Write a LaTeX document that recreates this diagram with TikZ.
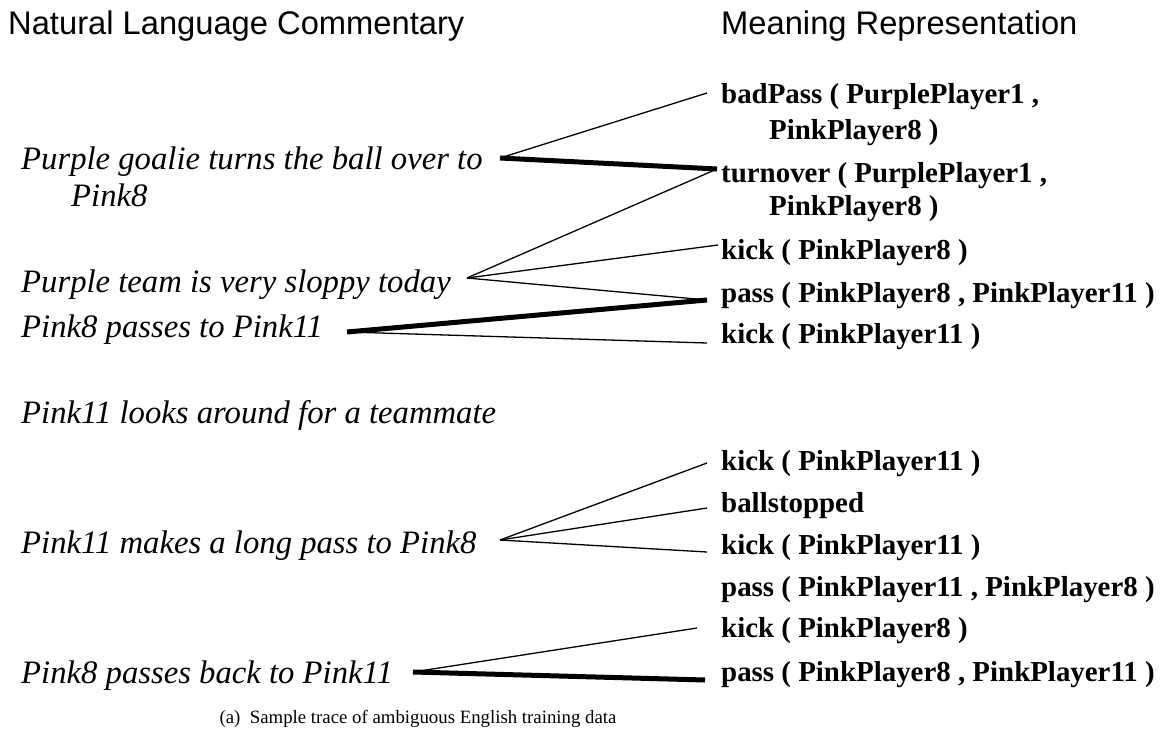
\documentclass[tikz,border=0pt]{standalone}
\usepackage{fontspec}
\setmainfont{Liberation Serif}
\newfontfamily\hdrfont{Liberation Sans}
\begin{document}
\begin{tikzpicture}[x=1pt,y=-1pt,
  hdr/.style={anchor=base west,inner sep=0pt,font=\hdrfont\fontsize{32.7}{36}\selectfont},
  nl/.style={anchor=base west,inner sep=0pt,font=\itshape\fontsize{32.7}{36}\selectfont},
  mr/.style={anchor=base west,inner sep=0pt,font=\bfseries\fontsize{28.9}{32}\selectfont},
  captext/.style={anchor=base,inner sep=0pt,font=\fontsize{18.8}{22}\selectfont},
  weak/.style={line width=1.3pt},
  strong/.style={line width=5pt}]
\useasboundingbox (0,0) rectangle (1167,743);
% headers
\node[hdr] (h1) at (8,35) {Natural Language Commentary};
\node[hdr] (h2) at (721,35) {Meaning Representation};
% natural language
\node[nl] (n1) at (21,170) {Purple goalie turns the ball over to};
\node[nl] (n1b) at (71,207) {Pink8};
\node[nl] (n2) at (21,293) {Purple team is very sloppy today};
\node[nl] (n3) at (21,337) {Pink8 passes to Pink11};
\node[nl] (n4) at (21,423) {Pink11 looks around for a teammate};
\node[nl] (n5) at (21,553) {Pink11 makes a long pass to Pink8};
\node[nl] (n6) at (21,683) {Pink8 passes back to Pink11};
% meaning representations
\node[mr] (m1) at (721,104) {badPass ( PurplePlayer1 ,};
\node[mr] (m1b) at (769,140) {PinkPlayer8 )};
\node[mr] (m2) at (721,183) {turnover ( PurplePlayer1 ,};
\node[mr] (m2b) at (769,216) {PinkPlayer8 )};
\node[mr] (m3) at (721,260) {kick ( PinkPlayer8 )};
\node[mr] (m4) at (721,302) {pass ( PinkPlayer8 , PinkPlayer11 )};
\node[mr] (m5) at (721,343) {kick ( PinkPlayer11 )};
\node[mr] (m6) at (721,470) {kick ( PinkPlayer11 )};
\node[mr] (m7) at (721,512) {ballstopped};
\node[mr] (m8) at (721,554) {kick ( PinkPlayer11 )};
\node[mr] (m9) at (721,596) {pass ( PinkPlayer11 , PinkPlayer8 )};
\node[mr] (m10) at (721,637) {kick ( PinkPlayer8 )};
\node[mr] (m11) at (721,681) {pass ( PinkPlayer8 , PinkPlayer11 )};
% caption
\node[captext] (c) at (418,723) {(a)\enspace Sample trace of ambiguous English training data};
% connector end points
\coordinate (n1r) at (500,158);
\coordinate (n2r) at (467,278);
\coordinate (n3r) at (347,332);
\coordinate (n5r) at (500,540);
\coordinate (n6r) at (413,672);
\coordinate (m1l) at (707,93);
\coordinate (m2l) at (717,169);
\coordinate (m3l) at (718,245);
\coordinate (m4l) at (707,300);
\coordinate (m5l) at (707,343);
\coordinate (m6l) at (707,463);
\coordinate (m7l) at (707,508);
\coordinate (m8l) at (707,552);
\coordinate (m10l) at (697,628);
\coordinate (m11l) at (705,680);
% connectors
\draw[weak] (n1r) -- (m1l);
\draw[strong] (n1r) -- (m2l);
\draw[weak] (n2r) -- (m2l);
\draw[weak] (n2r) -- (m3l);
\draw[weak] (n2r) -- (m4l);
\draw[strong] (n3r) -- (m4l);
\draw[weak] (n3r) -- (m5l);
\draw[weak] (n5r) -- (m6l);
\draw[weak] (n5r) -- (m7l);
\draw[weak] (n5r) -- (m8l);
\draw[weak] (n6r) -- (m10l);
\draw[strong] (n6r) -- (m11l);
\end{tikzpicture}
\end{document}
